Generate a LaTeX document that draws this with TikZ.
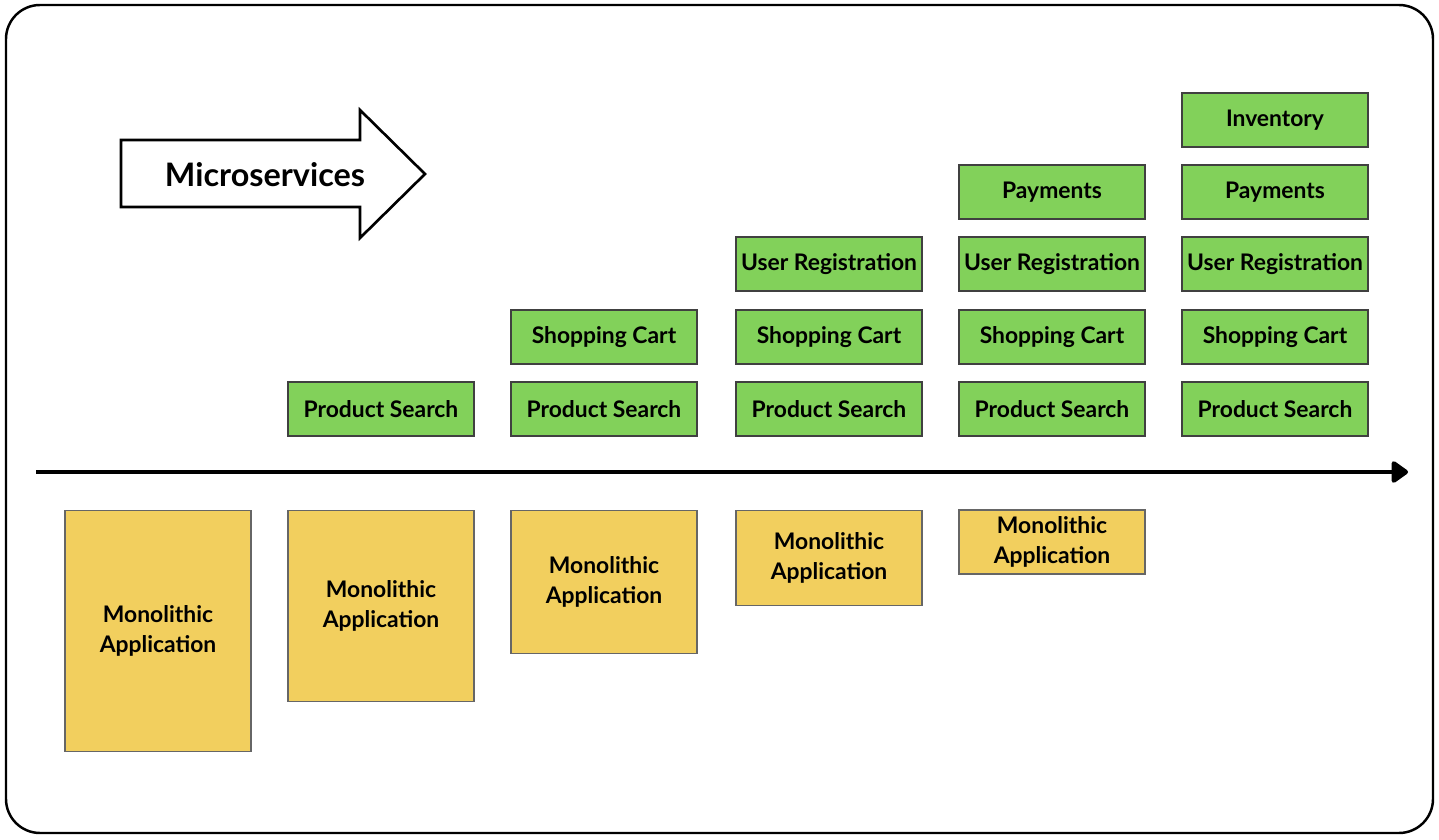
\documentclass[tikz,border=0pt]{standalone}
\usepackage{fontspec}
\setmainfont{Lato}
\usetikzlibrary{arrows.meta}

\definecolor{svcgreen}{RGB}{130,209,90}
\definecolor{monoyellow}{RGB}{242,207,94}

\tikzset{
  svc/.style={draw=black!75, line width=0.5pt, fill=svcgreen, minimum width=1.86cm,
    minimum height=0.54cm, inner sep=0pt, font=\bfseries\fontsize{6.5}{7.5}\selectfont},
  mono/.style={draw=black!60, line width=0.5pt, fill=monoyellow, minimum width=1.86cm,
    inner sep=0pt, align=center, font=\bfseries\fontsize{6.5}{8.3}\selectfont}
}

\begin{document}
\begin{tikzpicture}[x=0.01cm,y=-0.01cm]

  \useasboundingbox (0,0) rectangle (1439,840);
  \draw[line width=0.7pt, rounded corners=0.34cm] (6,5) rectangle (1433,833);

  % the big arrow
  \draw[line width=0.75pt, line join=miter] (121,140) -- (360,140) -- (360,110) -- (425,174)
    -- (360,238) -- (360,207) -- (121,207) -- cycle;
  \node (micro) at (265,175) {\bfseries\fontsize{9.2}{10}\selectfont Microservices};

  % time line
  \coordinate (tl-start) at (36,472);
  \coordinate (tl-end) at (1408,472);
  \draw[line width=1.4pt, -{Triangle[length=5.2pt,width=7pt,round]}] (tl-start) -- (tl-end);

  % stage 1
  \node[mono, minimum height=2.41cm] (mono1) at (158,631) {Monolithic\\Application};

  % stage 2
  \node[svc] (search2) at (381,409) {Product Search};
  \node[mono, minimum height=1.91cm] (mono2) at (381,606) {Monolithic\\Application};

  % stage 3
  \node[svc] (search3) at (604,409) {Product Search};
  \node[svc] (cart3) at (604,337) {Shopping Cart};
  \node[mono, minimum height=1.43cm] (mono3) at (604,582) {Monolithic\\Application};

  % stage 4
  \node[svc] (search4) at (829,409) {Product Search};
  \node[svc] (cart4) at (829,337) {Shopping Cart};
  \node[svc] (user4) at (829,264) {User Registration};
  \node[mono, minimum height=0.95cm] (mono4) at (829,558) {Monolithic\\Application};

  % stage 5
  \node[svc] (search5) at (1052,409) {Product Search};
  \node[svc] (cart5) at (1052,337) {Shopping Cart};
  \node[svc] (user5) at (1052,264) {User Registration};
  \node[svc] (pay5) at (1052,192) {Payments};
  \node[mono, minimum height=0.64cm] (mono5) at (1052,542) {Monolithic\\Application};

  % stage 6
  \node[svc] (search6) at (1275,409) {Product Search};
  \node[svc] (cart6) at (1275,337) {Shopping Cart};
  \node[svc] (user6) at (1275,264) {User Registration};
  \node[svc] (pay6) at (1275,192) {Payments};
  \node[svc] (inv6) at (1275,120) {Inventory};

\end{tikzpicture}
\end{document}
